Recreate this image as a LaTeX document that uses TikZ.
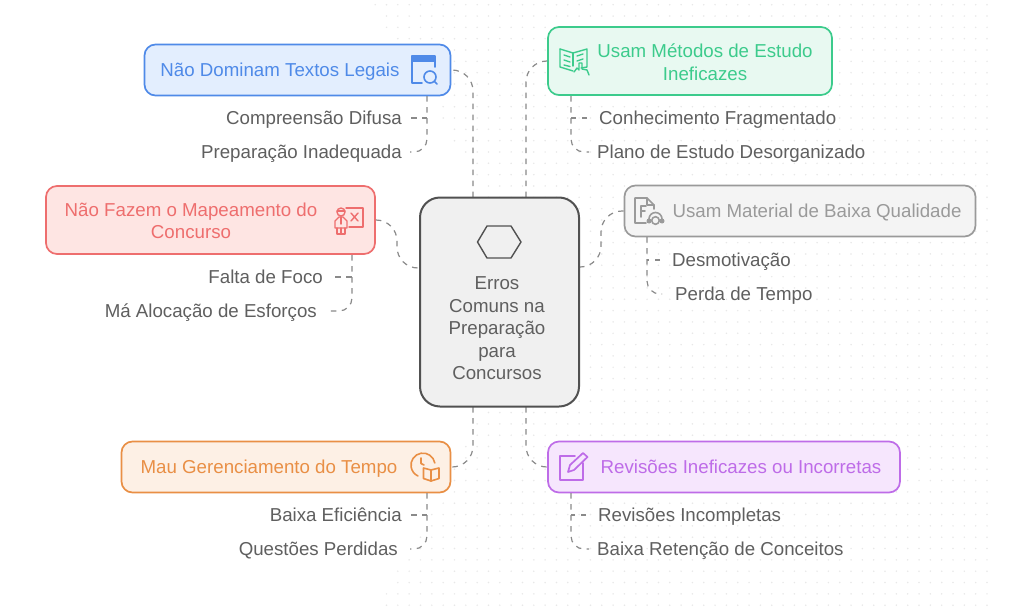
\documentclass[tikz,border=0pt]{standalone}
\usepackage{fontspec}
\setmainfont{Liberation Sans}
\usetikzlibrary{calc}
\definecolor{cblue}{HTML}{4F8AE8}\definecolor{fblue}{HTML}{E3EEFE}
\definecolor{cgreen}{HTML}{3CCB8C}\definecolor{fgreen}{HTML}{E8F9F1}
\definecolor{cred}{HTML}{EE6E6E}\definecolor{fred}{HTML}{FEE5E3}
\definecolor{cgrey}{HTML}{9A9A9A}\definecolor{fgrey}{HTML}{F4F4F4}
\definecolor{corange}{HTML}{E98F45}\definecolor{forange}{HTML}{FDF0E5}
\definecolor{cpurple}{HTML}{BE6CE8}\definecolor{fpurple}{HTML}{F6E6FD}
\definecolor{ctext}{HTML}{5F5F5F}\definecolor{cline}{HTML}{8A8A8A}
\definecolor{cdot}{HTML}{E8E8E8}
\tikzset{
 box/.style={draw=#1,line width=1.7pt,rounded corners=11pt,inner sep=0pt},
 lab/.style={font=\fontsize{18.7}{22.5}\selectfont,align=center,inner sep=0pt},
 sub/.style={font=\fontsize{18.7}{22.5}\selectfont,text=ctext,inner sep=0pt,text height=13pt,text depth=4pt},
 con/.style={draw=cline,line width=1.2pt,dash pattern=on 5.5pt off 5.5pt,rounded corners=21pt},
 con2/.style={con,rounded corners=13pt},
 ic/.style={line width=1.6pt,line join=round,line cap=round},
}
\begin{document}
\begin{tikzpicture}[x=1pt,y=-1pt]
\useasboundingbox (0,0) rectangle (1024,613);
\fill[white] (0,0) rectangle (1024,613);
% dot grid
\foreach \r in {0,...,53}{
 \foreach \c in {0,...,55}{
  \pgfmathsetmacro{\px}{987-\c*11.33}
  \pgfmathsetmacro{\py}{4.7+\r*11.33}
  \pgfmathparse{(\py<=250)?((\px>370+0.6*\py)?1:0):((\px>700-0.53*\py)?1:0)}
  \pgfmathtruncatemacro{\showdot}{\pgfmathresult}
  \ifnum\showdot=1
   \fill[cdot] (\px,\py) circle (0.85pt);
  \fi
 }
}
% boxes
\node[box=cblue,fill=fblue,minimum width=306pt,minimum height=51pt] (b1) at (297.5,70) {};
\node[box=cred,fill=fred,minimum width=329pt,minimum height=68pt] (b2) at (210.5,220) {};
\node[box=corange,fill=forange,minimum width=329pt,minimum height=51pt] (b3) at (286,467) {};
\node[box=cgreen,fill=fgreen,minimum width=284pt,minimum height=68pt] (b4) at (690,61) {};
\node[box=cgrey,fill=fgrey,minimum width=351pt,minimum height=51pt] (b5) at (800,211) {};
\node[box=cpurple,fill=fpurple,minimum width=352pt,minimum height=51pt] (b6) at (724,467) {};
% centre-to-box connectors
\coordinate (c1) at (473,197);
\coordinate (c4) at (526,197);
\coordinate (c2) at (420,268);
\coordinate (c5) at (579,267);
\coordinate (c3) at (473,407);
\coordinate (c6) at (526,407);
\draw[con] (c1) -- (473,70) -- (b1.east);
\draw[con] (c4) -- (526,61) -- (b4.west);
\draw[con] (b2.east) -- (397,220) -- (397,268) -- (c2);
\draw[con] (c5) -- (601,267) -- (601,211) -- (b5.west);
\draw[con] (c3) -- (473,467) -- (b3.east);
\draw[con] (c6) -- (526,467) -- (b6.west);
% sub labels
\node[sub,anchor=east] (s11) at (402,120) {Compreensão Difusa};
\node[sub,anchor=east] (s12) at (402,154) {Preparação Inadequada};
\node[sub,anchor=east] (s21) at (323,279) {Falta de Foco};
\node[sub,anchor=east] (s22) at (317,313) {Má Alocação de Esforços};
\node[sub,anchor=east] (s31) at (402,517) {Baixa Eficiência};
\node[sub,anchor=east] (s32) at (398,551) {Questões Perdidas};
\node[sub,anchor=west] (s41) at (599,120) {Conhecimento Fragmentado};
\node[sub,anchor=west] (s42) at (597,154) {Plano de Estudo Desorganizado};
\node[sub,anchor=west] (s51) at (672,262) {Desmotivação};
\node[sub,anchor=west] (s52) at (675,296) {Perda de Tempo};
\node[sub,anchor=west] (s61) at (598,517) {Revisões Incompletas};
\node[sub,anchor=west] (s62) at (597,551) {Baixa Retenção de Conceitos};
% branch connectors
\coordinate (t1) at (427,96);\coordinate (t2) at (352,255);\coordinate (t3) at (427,493);
\coordinate (t4) at (571,96);\coordinate (t5) at (647,237);\coordinate (t6) at (571,493);
\draw[con2] (t1) -- (427,152) -- ($(s12.east)+(8,-2)$);
\draw[con] ($(s11.east)+(9,-2)$) -- (427,118);
\draw[con2] (t2) -- (352,311) -- ($(s22.east)+(13,-2)$);
\draw[con] ($(s21.east)+(12,-2)$) -- (352,277);
\draw[con2] (t3) -- (427,549) -- ($(s32.east)+(12,-2)$);
\draw[con] ($(s31.east)+(9,-2)$) -- (427,515);
\draw[con2] (t4) -- (571,152) -- ($(s42.west)+(-8,-2)$);
\draw[con] ($(s41.west)+(-12,-2)$) -- (571,118);
\draw[con2] (t5) -- (647,294) -- ($(s52.west)+(-13,-2)$);
\draw[con] ($(s51.west)+(-12,-2)$) -- (647,260);
\draw[con2] (t6) -- (571,549) -- ($(s62.west)+(-8,-2)$);
\draw[con] ($(s61.west)+(-12,-2)$) -- (571,515);
% centre box drawn on top
\node[draw=ctext!85!black,fill=fgrey!70!cdot,line width=2pt,rounded corners=20pt,minimum width=159pt,minimum height=209pt,inner sep=0] (ctrb) at (499.5,302) {};
\node[lab,text=ctext] (ctrt) at (497,328.5) {Erros\\Comuns na\\Preparação\\para\\Concursos};
\draw[ctext!85!black,line width=1.4pt,line join=round] (477.5,242) -- (487,226) -- (511,226) -- (521,242) -- (511,258) -- (487,258) -- cycle;
% box labels
\node[lab,text=cblue] (l1) at (280,72) {Não Dominam Textos Legais};
\node[lab,text=cred] (l2) at (191,221) {Não Fazem o Mapeamento do\\Concurso};
\node[lab,text=corange] (l3) at (269,469) {Mau Gerenciamento do Tempo};
\node[lab,text=cgreen] (l4) at (705,62) {Usam Métodos de Estudo\\Ineficazes};
\node[lab,text=cgrey] (l5) at (817,212) {Usam Material de Baixa Qualidade};
\node[lab,text=cpurple] (l6) at (741,467) {Revisões Ineficazes ou Incorretas};
% icon: window + magnifier
\begin{scope}[ic,cblue]
\draw (435,67) -- (435,56) -- (412,56) -- (412,83) -- (422,83);
\fill (412,55.5) rectangle (435,62);
\draw (430,77) circle (6pt);
\draw (434.5,81.5) -- (437,84);
\end{scope}
% icon: book and hand
\begin{scope}[ic,cgreen,line width=1.4pt]
\draw (560,49) -- (573,53) -- (587,49) -- (587,67) -- (581,68);
\draw (560,49) -- (560,67) -- (573,71);
\draw (573,53) -- (573,66);
\draw (564,55)--(570,57) (564,60)--(570,62) (564,65)--(570,66.5);
\draw (577,56)--(583,54) (577,61)--(583,59);
\draw (574,72) -- (577,68) -- (579,70) -- (579,63) -- (582,63) -- (582,69) -- (587,70) -- (589,75);
\end{scope}
% icon: person & board
\begin{scope}[ic,cred,line width=1.4pt]
\draw (346,208) -- (363,208) -- (363,227) -- (349,227);
\draw (351,213) -- (358,221) (358,213) -- (351,221);
\draw (341,212) circle (4pt);
\draw (337,211)--(345,211);
\draw (335,228) -- (335,221) -- (339,217) -- (343,217) -- (347,221) -- (347,228) -- cycle;
\draw (337,228) -- (337,234) -- (345,234) -- (345,228) (341,228)--(341,234) (341,217)--(341,224);
\end{scope}
% icon: file F + headphones
\begin{scope}[ic,cgrey]
\draw (646,223) -- (635,223) -- (635,198) -- (647,198) -- (654,205) -- (654,209);
\draw (647,198) -- (647,205) -- (654,205);
\draw (641,217) -- (641,206) -- (646,206) (641,211) -- (645,211);
\draw (649,219) arc (180:0:6.5pt);
\fill (649,221) circle (2.5pt) (662,221) circle (2.5pt);
\draw (655.5,220.5) circle (3.8pt);
\end{scope}
% icon: clock + book
\begin{scope}[ic,corange]
\draw (434.8,463) arc (10:245:12pt);
\draw (421,458) -- (421,463.5) -- (424,465);
\draw (431,470) -- (431,481) -- (423.5,478.5) -- (423.5,468) -- cycle;
\draw (431,470) -- (439,468) -- (439,478.5) -- (431,481);
\end{scope}
% icon: pencil & square
\begin{scope}[ic,cpurple,line width=1.7pt]
\draw (575,456) -- (560,456) -- (560,480) -- (583,480) -- (583,463);
\draw (568,472) -- (570,465) -- (583,453) -- (587.5,457) -- (574,470) -- cycle;
\end{scope}
\end{tikzpicture}
\end{document}
